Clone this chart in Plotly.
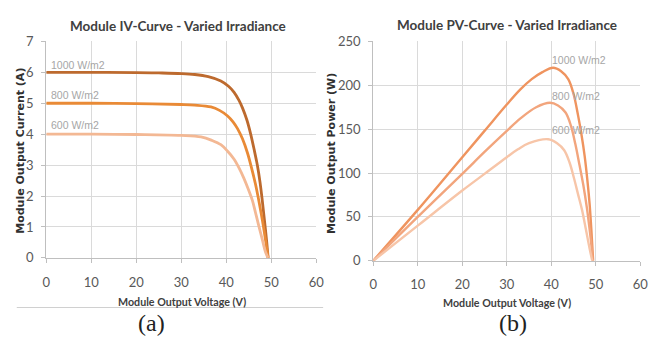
import plotly.graph_objects as go

# ---- IV curve data (Module Output Voltage V, Current A) ----
iv_v_1000 = [0, 10, 20, 25, 30, 33, 36, 38.8, 40.5, 41.7, 42.8, 43.6, 44.6, 45.4, 46.2, 46.9, 47.5, 48.0, 48.5, 49.0, 49.3]
iv_i_1000 = [6.0, 6.0, 5.99, 5.98, 5.96, 5.93, 5.86, 5.72, 5.55, 5.36, 5.1, 4.85, 4.45, 4.02, 3.5, 3.0, 2.45, 1.86, 1.2, 0.5, 0]
iv_v_800 = [0, 10, 20, 30, 33, 36.6, 38.5, 40.3, 41.5, 42.5, 43.6, 44.7, 45.6, 46.5, 47.3, 48.0, 48.7, 49.3]
iv_i_800 = [5.0, 5.0, 4.99, 4.96, 4.94, 4.88, 4.77, 4.59, 4.4, 4.18, 3.85, 3.4, 2.92, 2.38, 1.8, 1.24, 0.6, 0]
iv_v_600 = [0, 10, 20, 30, 34.4, 36.8, 38.8, 40.3, 41.7, 42.8, 43.9, 44.9, 45.8, 46.5, 47.2, 48.0, 48.7, 49.3]
iv_i_600 = [4.0, 4.0, 3.99, 3.96, 3.91, 3.8, 3.66, 3.45, 3.2, 2.92, 2.58, 2.22, 1.86, 1.46, 1.05, 0.6, 0.2, 0]

# ---- PV curve data (Module Output Voltage V, Power W) ----
pv_v_1000 = [0, 10, 20, 25, 30, 33, 35.6, 38, 40.4, 42.2, 43.8, 45.0, 46.0, 46.8, 47.5, 48.1, 48.6, 49.0, 49.4]
pv_p_1000 = [0, 58, 118, 148, 178, 195, 207, 215, 220, 216, 207, 190, 166, 143, 119, 92, 65, 35, 0]
pv_v_800 = [0, 10, 20, 25, 30, 33, 36.6, 39.7, 41.5, 43.2, 44.4, 45.4, 46.3, 47.2, 48.0, 48.6, 49.0, 49.3]
pv_p_800 = [0, 50, 99, 124, 148, 162, 175, 180, 177, 169, 154, 133, 110, 86, 60, 36, 18, 0]
pv_v_600 = [0, 10, 20, 25, 30, 32.5, 35, 39.3, 41.3, 42.9, 44.1, 45.1, 46.0, 46.9, 47.8, 48.6, 49.2]
pv_p_600 = [0, 40, 80, 99, 118, 127, 134, 138.5, 134, 126, 112, 94, 76, 58, 35, 14, 0]

series_labels = ["1000 W/m2", "800 W/m2", "600 W/m2"]
x_ticks = [0, 10, 20, 30, 40, 50, 60]
iv_y_ticks = [0, 1, 2, 3, 4, 5, 6, 7]
pv_y_ticks = [0, 50, 100, 150, 200, 250]

iv_colors = ["#BD6A2E", "#E98A36", "#F3B894"]
pv_colors = ["#EF945F", "#F2A57D", "#F7C5A8"]

fig = go.Figure()

iv_sets = [(iv_v_1000, iv_i_1000), (iv_v_800, iv_i_800), (iv_v_600, iv_i_600)]
pv_sets = [(pv_v_1000, pv_p_1000), (pv_v_800, pv_p_800), (pv_v_600, pv_p_600)]

for (vx, iy), c, name in zip(iv_sets, iv_colors, series_labels):
    fig.add_trace(go.Scatter(x=vx, y=iy, mode="lines", name=name,
                             line=dict(color=c, width=2.8, shape="spline", smoothing=1.0),
                             xaxis="x", yaxis="y", showlegend=False))
for (vx, py), c, name in zip(pv_sets, pv_colors, series_labels):
    fig.add_trace(go.Scatter(x=vx, y=py, mode="lines", name=name,
                             line=dict(color=c, width=2.4, shape="spline", smoothing=1.0),
                             xaxis="x2", yaxis="y2", showlegend=False))

W, H = 667, 347
def px(x):
    return x / W
def py(y):
    return 1 - y / H

tickfont = dict(family="Lato, Open Sans, sans-serif", size=13, color="#595959")
axis_common = dict(showgrid=True, gridcolor="#DADADA", gridwidth=1,
                   showline=True, linecolor="#BFBFBF", linewidth=1,
                   ticks="outside", ticklen=4, tickcolor="#BFBFBF",
                   zeroline=False, tickfont=tickfont, fixedrange=True)

fig.update_layout(
    width=W, height=H,
    margin=dict(l=0, r=0, t=0, b=0),
    paper_bgcolor="white", plot_bgcolor="white",
    xaxis=dict(domain=[px(43), px(318)], range=[0, 60], tickvals=x_ticks,
               anchor="y", ticklabelstandoff=8, **axis_common),
    yaxis=dict(domain=[py(262), py(35)], range=[0, 7], tickvals=iv_y_ticks,
               anchor="x", ticklabelstandoff=5, **axis_common),
    xaxis2=dict(domain=[px(376), px(648)], range=[0, 60], tickvals=x_ticks,
                anchor="y2", ticklabelstandoff=8, **axis_common),
    yaxis2=dict(domain=[py(265), py(35)], range=[0, 250], tickvals=pv_y_ticks,
                anchor="x2", ticklabelstandoff=5, **axis_common),
)

title_font = dict(family="Lato, Open Sans, sans-serif", size=13.5, color="#404040")
axt_font = dict(family="Lato, Open Sans, sans-serif", size=10.7, color="#404040")
yt_font = dict(family="DejaVu Sans, sans-serif", size=11, color="#303030")
lab_font = dict(family="Liberation Sans, Arial, sans-serif", size=10.5, color="#A6A6A6")
cap_font = dict(family="Liberation Serif, DejaVu Serif, serif", size=24, color="#222222")

ann = []
def add(text, x, y, font, angle=0, xanchor="center", yanchor="middle"):
    ann.append(dict(text=text, x=px(x), y=py(y), xref="paper", yref="paper",
                    showarrow=False, font=font, textangle=angle,
                    xanchor=xanchor, yanchor=yanchor))

add("<b>Module IV-Curve - Varied Irradiance</b>", 177, 19, title_font)
add("<b>Module PV-Curve - Varied Irradiance</b>", 512, 18, title_font)
add("<b>Module Output Voltage (V)</b>", 181, 308, axt_font)
add("<b>Module Output Voltage (V)</b>", 512, 309, axt_font)
add("<b>Module Output Current (A)</b>", 16, 150, yt_font, angle=-90)
add("<b>Module Output Power (W)</b>", 334, 152, yt_font, angle=-90)

for lbl, yy in zip(series_labels, [60, 91, 123]):
    add(lbl, 46, yy, lab_font, xanchor="left")
for lbl, yy in zip(series_labels, [54, 92, 128]):
    add(lbl, 556, yy, lab_font, xanchor="left")

add("(a)", 150, 330, cap_font)
add("(b)", 518, 330, cap_font)

fig.update_layout(annotations=ann,
                  shapes=[dict(type="line", xref="paper", yref="paper",
                               x0=px(13), x1=px(325), y0=py(314), y1=py(314),
                               line=dict(color="#D0D0D0", width=1))])

fig.write_html("out.html")
